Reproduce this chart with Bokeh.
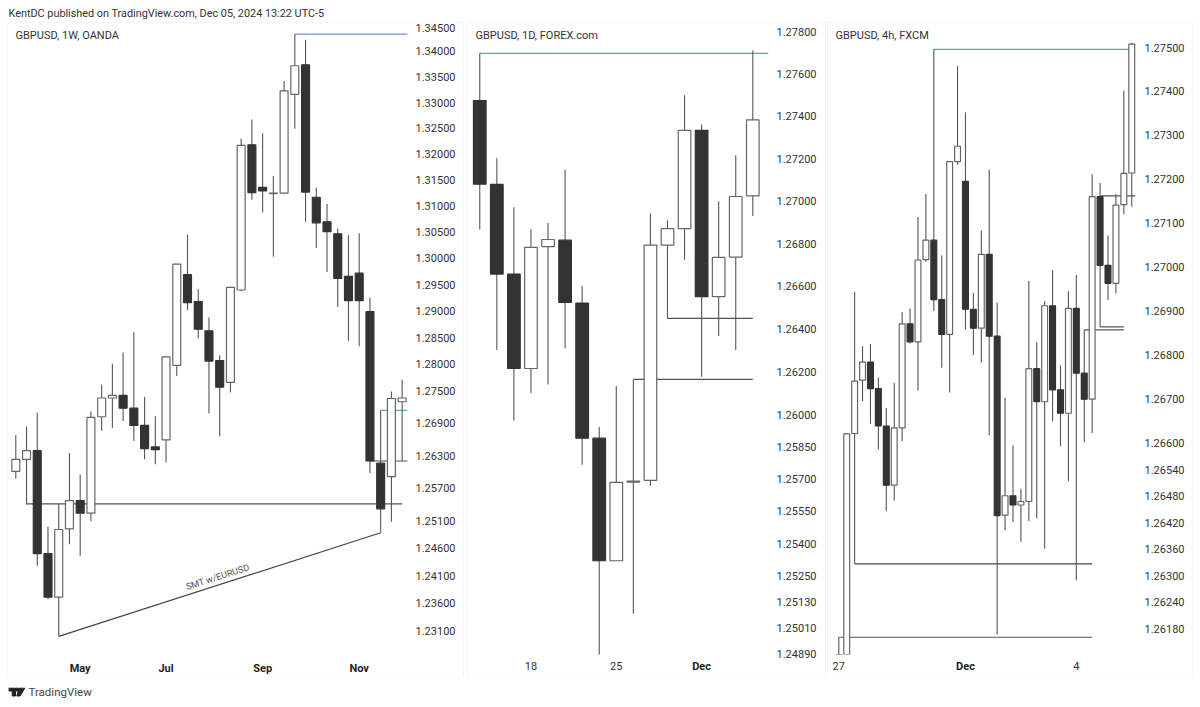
from bokeh.embed import file_html
from bokeh.layouts import column, row
from bokeh.models import (ColumnDataSource, FixedTicker, Label, LinearAxis,
                          NumeralTickFormatter, Range1d)
from bokeh.plotting import figure
from bokeh.resources import INLINE

FONT = "Roboto"
UP_FILL, DOWN_FILL, WICK, EDGE, TEXT = "#ffffff", "#333333", "#555555", "#666666", "#333333"
BLUE, GREEN = "#6c90e2", "#55b8a4"

# ---------- 1W OANDA ----------
w_open = [1.2601,1.2623,1.2639,1.2450,1.2371,1.2495,1.2547,1.2524,1.2702,1.2737,1.2742,1.2718,1.2686,1.2646,1.2659,1.2798,
          1.2969,1.2918,1.2863,1.2807,1.2766,1.2940,1.3218,1.3136,1.3124,1.3125,1.3316,1.3374,1.3117,1.3070,1.3047,1.2966,
          1.2972,1.2899,1.2616,1.2591,1.2730]
w_high = [1.2668,1.2684,1.2709,1.2499,1.2541,1.2635,1.2595,1.2712,1.2762,1.2801,1.2822,1.2860,1.2739,1.2703,1.2816,1.2990,
          1.3045,1.2942,1.2888,1.2817,1.2946,1.3230,1.3267,1.3240,1.3158,1.3342,1.3434,1.3423,1.3135,1.3104,1.3057,1.3044,
          1.3048,1.2926,1.2714,1.2749,1.2771]
w_low = [1.2587,1.2540,1.2428,1.2367,1.2300,1.2467,1.2446,1.2509,1.2676,1.2681,1.2694,1.2657,1.2623,1.2614,1.2617,1.2778,
         1.2902,1.2849,1.2708,1.2666,1.2747,1.2938,1.3112,1.3088,1.3003,1.3124,1.3249,1.3070,1.3020,1.2974,1.2908,1.2844,
         1.2834,1.2598,1.2488,1.2508,1.2620]
w_close = [1.2623,1.2639,1.2450,1.2371,1.2494,1.2547,1.2524,1.2701,1.2737,1.2742,1.2718,1.2686,1.2643,1.2641,1.2814,1.2989,
           1.2916,1.2866,1.2806,1.2757,1.2945,1.3217,1.3126,1.3129,1.3125,1.3323,1.3372,1.3127,1.3068,1.3051,1.2962,1.2920,
           1.2920,1.2620,1.2532,1.2736,1.2737]
w_ticks = [1.345,1.34,1.335,1.33,1.325,1.32,1.315,1.31,1.305,1.30,1.295,1.29,1.285,1.28,1.275,1.269,1.263,1.257,1.251,1.246,1.241,1.236,1.231]
w_month_ticks = [6, 14, 23, 32]
w_month_labels = ["May", "Jul", "Sep", "Nov"]
w_hlines = [(26, 36.5, 1.3434, 1.3434, BLUE), (1, 36, 1.2541, 1.2541, WICK), (4, 34, 1.2300, 1.2488, "#444444"),
            (34, 36.5, 1.2714, 1.2714, GREEN), (33, 36.5, 1.2620, 1.2620, WICK)]

# ---------- 1D FOREX.com ----------
d_open = [1.27474,1.27079,1.26658,1.26216,1.26787,1.26817,1.26522,1.25891,1.25321,1.25686,1.25694,1.26794,1.26871,1.27333,1.26552,1.26737,1.27025]
d_high = [1.27697,1.27202,1.26972,1.26868,1.26898,1.27149,1.26601,1.25943,1.26134,1.26165,1.26942,1.26911,1.27499,1.27361,1.27000,1.27216,1.27710]
d_low = [1.26867,1.26302,1.25973,1.26102,1.26141,1.26311,1.25767,1.24850,1.25321,1.25076,1.25669,1.26450,1.26725,1.26177,1.26368,1.26302,1.26931]
d_close = [1.27080,1.26658,1.26216,1.26783,1.26820,1.26525,1.25891,1.25321,1.25685,1.25691,1.26794,1.26871,1.27333,1.26552,1.26736,1.27022,1.27383]
d_ticks = [1.278,1.276,1.274,1.272,1.27,1.268,1.266,1.264,1.262,1.26,1.2585,1.257,1.2555,1.254,1.2525,1.2513,1.2501,1.2489]
d_xticks = [3, 8]
d_xlabels = ["18", "25"]
d_month_ticks = [13]
d_month_labels = ["Dec"]
d_hlines = [(0, 16.92, 1.27697, 1.27697, BLUE), (11, 16, 1.26450, 1.26450, WICK), (9, 16, 1.26165, 1.26165, WICK)]

# ---------- 4h FXCM ----------
h_open = [1.26050,1.26100,1.26622,1.26743,1.26784,1.26724,1.26639,1.26505,1.26635,1.26871,1.26830,1.27017,1.27061,1.26926,1.26847,1.27240,1.27195,1.26904,1.26861,
          1.27029,1.26843,1.26437,1.26481,1.26460,1.26468,1.26769,1.26694,1.26912,1.26721,1.26668,1.26906,1.26759,1.26700,1.27160,1.27004,1.26963,1.27142,1.27214]
h_high = [1.26161,1.26623,1.26943,1.26820,1.26825,1.26749,1.26680,1.26737,1.26897,1.26906,1.27114,1.27166,1.27496,1.27026,1.27240,1.27458,1.27352,1.26941,1.27083,
          1.27222,1.26919,1.26703,1.26595,1.26497,1.26968,1.26829,1.26923,1.26993,1.26777,1.26945,1.26982,1.26857,1.27211,1.27191,1.27072,1.27166,1.27402,1.27511]
h_low = [1.25950,1.26050,1.26327,1.26695,1.26644,1.26586,1.26446,1.26470,1.26605,1.26826,1.26719,1.27012,1.26900,1.26771,1.26715,1.27233,1.26858,1.26800,1.26783,
         1.26618,1.26167,1.26403,1.26421,1.26377,1.26424,1.26430,1.26361,1.26650,1.26593,1.26514,1.26290,1.26603,1.26623,1.26864,1.26925,1.26940,1.27120,1.27137]
h_close = [1.26080,1.26621,1.26741,1.26784,1.26724,1.26639,1.26505,1.26635,1.26871,1.26830,1.27016,1.27061,1.26926,1.26847,1.27240,1.27275,1.26904,1.26861,1.27029,
           1.26843,1.26436,1.26481,1.26460,1.26468,1.26769,1.26694,1.26912,1.26721,1.26668,1.26906,1.26759,1.26700,1.27160,1.27004,1.26963,1.27141,1.27213,1.27508]
h_ticks = [1.275,1.274,1.273,1.272,1.271,1.27,1.269,1.268,1.267,1.266,1.2654,1.2648,1.2642,1.2636,1.263,1.2624,1.2618]
h_xticks = [0, 30]
h_xlabels = ["27", "4"]
h_month_ticks = [16]
h_month_labels = ["Dec"]
h_hlines = [(12, 37, 1.27496, 1.27496, BLUE), (0, 32, 1.26161, 1.26161, WICK), (2, 32, 1.26327, 1.26327, "#444444"),
            (31, 36, 1.26857, 1.26857, WICK), (33, 36, 1.26864, 1.26864, WICK), (33, 37.45, 1.27162, 1.27162, WICK)]

FRAME_H = 631


def style_axis(a, standoff):
    a.axis_line_color = None
    a.major_tick_line_color = None
    a.minor_tick_line_color = None
    a.major_tick_out = 0
    a.major_tick_in = 0
    a.minor_tick_out = 0
    a.minor_tick_in = 0
    a.major_label_text_font = FONT
    a.major_label_text_font_size = "11px"
    a.major_label_text_color = TEXT
    a.major_label_standoff = standoff


def panel(title, o, h, l, c, ticks, xticks, xlabels, month_ticks, month_labels, hlines, xr, yr, w, mr):
    p = figure(width=w, height=654, output_backend="svg", toolbar_location=None, y_axis_type="log",
               y_axis_location="right", x_range=Range1d(*xr), y_range=Range1d(*yr),
               min_border_left=0, min_border_top=0, min_border_bottom=23, min_border_right=mr,
               outline_line_color=None, background_fill_color="white", border_fill_color="white",
               styles={"outline": "1px solid #f5f5f5"})
    p.grid.visible = False
    ya = p.yaxis[0]
    ya.ticker = FixedTicker(ticks=ticks)
    ya.formatter = NumeralTickFormatter(format="0.00000")
    style_axis(ya, 8)
    xa = p.xaxis[0]
    xa.ticker = FixedTicker(ticks=xticks)
    xa.major_label_overrides = {k: v for k, v in zip(xticks, xlabels)}
    style_axis(xa, 7)
    ma = LinearAxis(ticker=FixedTicker(ticks=month_ticks),
                    major_label_overrides={k: v for k, v in zip(month_ticks, month_labels)})
    style_axis(ma, -13 if xticks else 7)
    ma.major_label_text_font_style = "bold"
    ma.major_label_text_color = "#222222"
    p.add_layout(ma, "below")

    p.segment(x0=[r[0] for r in hlines], x1=[r[1] for r in hlines], y0=[r[2] for r in hlines], y1=[r[3] for r in hlines],
              line_color=[r[4] for r in hlines], line_width=1.2)
    xs = list(range(len(o)))
    src = ColumnDataSource(dict(
        x=xs, h=h, l=l, top=[max(a, b) for a, b in zip(o, c)], bot=[min(a, b) for a, b in zip(o, c)],
        fill=[UP_FILL if b >= a else DOWN_FILL for a, b in zip(o, c)],
        edge=[EDGE if b >= a else DOWN_FILL for a, b in zip(o, c)]))
    p.segment("x", "h", "x", "l", source=src, line_color=WICK, line_width=1.1)
    p.vbar(x="x", width=0.74, top="top", bottom="bot", source=src, fill_color="fill", line_color="edge", line_width=1.2)
    p.add_layout(Label(x=7, y=FRAME_H - 12, x_units="screen", y_units="screen", text=title, text_font=FONT,
                       text_font_size="11px", text_color=TEXT, text_baseline="middle"))
    return p


p1 = panel("GBPUSD, 1W, OANDA", w_open, w_high, w_low, w_close, w_ticks, [], [], w_month_ticks, w_month_labels, w_hlines,
           (-0.68, 36.5), (1.22674, 1.3455), 455, 56)
p1.margin = (0, 5, 0, 0)
p1.add_layout(Label(x=18.8, y=1.2408, text="SMT w/EURUSD", angle=17.8, angle_units="deg", text_font=FONT,
                    text_font_size="9.2px", text_color="#555555", text_align="center", text_baseline="middle"))

p2 = panel("GBPUSD, 1D, FOREX.com", d_open, d_high, d_low, d_close, d_ticks, d_xticks, d_xlabels, d_month_ticks, d_month_labels,
           d_hlines, (-0.66, 16.92), (1.24887, 1.27838), 357, 57)
p2.margin = (0, 3, 0, 0)

p3 = panel("GBPUSD, 4h, FXCM", h_open, h_high, h_low, h_close, h_ticks, h_xticks, h_xlabels, h_month_ticks, h_month_labels,
           h_hlines, (-1.3, 37.6), (1.26122, 1.27555), 364, 56)


def strip(height, w=1184):
    s = figure(width=w, height=height, output_backend="svg", toolbar_location=None, x_range=Range1d(0, w),
               y_range=Range1d(0, height), x_axis_location=None, y_axis_location=None, outline_line_color=None,
               min_border=0, background_fill_color="white", border_fill_color="white")
    s.grid.visible = False
    return s


head = strip(15)
head.add_layout(Label(x=0, y=10, text="KentDC published on TradingView.com, Dec 05, 2024 13:22 UTC-5", text_font=FONT,
                      text_font_size="10.85px", text_color=TEXT, text_baseline="middle"))

foot = strip(22)
foot.patch([0.3, 7, 7, 3.7, 3.7, 0.3], [11.3, 11.3, 3.5, 3.5, 8.5, 8.5], color="#222222")
foot.patch([10.5, 16.3, 11.6, 8.3], [11.3, 11.3, 3.5, 3.5], color="#222222")
foot.scatter([8.7], [9.9], size=3.2, color="#222222")
foot.add_layout(Label(x=20, y=7.3, text="TradingView", text_font=FONT, text_font_size="11.5px", text_color="#444444",
                      text_baseline="middle"))

page = column(head, row(p1, p2, p3), foot, margin=(8, 0, 0, 8))
open("out.html", "w").write(file_html(page, INLINE))
